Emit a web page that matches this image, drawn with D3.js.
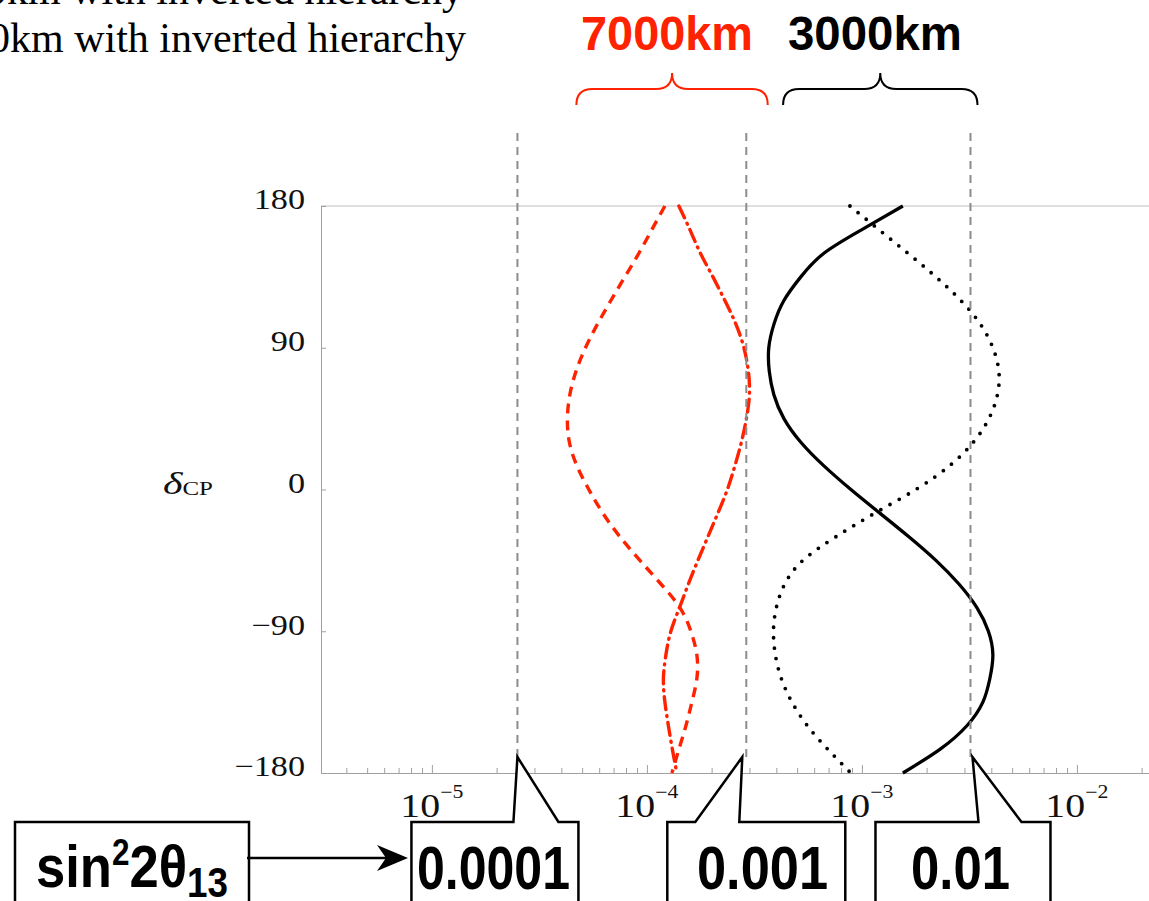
<!DOCTYPE html>
<html lang="en">
<head>
<meta charset="UTF-8">
<title>delta CP vs sin2 2theta13</title>
<script src="https://cdn.jsdelivr.net/npm/d3@7"></script>
<style>
  body { margin: 0; background: #fff; }
  svg { display: block; }
</style>
</head>
<body>
<svg id="viz"></svg>
<script>
// Data ---
// delta_CP grid (degrees), shared by the four curves
const deltaCP = [180, 165, 150, 135, 120, 105, 90, 75, 60, 45, 30, 15, 0,
  -15, -30, -45, -60, -75, -90, -105, -120, -135, -150, -165, -180];

// sin^2 2theta13, one value per delta
const red7000Dashed = [1.213e-4, 1.055e-4, 9.18e-5, 7.90e-5, 6.80e-5, 5.89e-5, 5.18e-5, 4.68e-5, 4.38e-5,
  4.27e-5, 4.36e-5, 4.73e-5, 5.37e-5, 6.24e-5, 7.49e-5, 9.28e-5, 1.162e-4, 1.424e-4, 1.602e-4,
  1.708e-4, 1.708e-4, 1.620e-4, 1.519e-4, 1.409e-4, 1.307e-4];
const red7000DashDot = [1.409e-4, 1.585e-4, 1.774e-4, 2.028e-4, 2.306e-4, 2.594e-4, 2.827e-4, 2.966e-4, 2.998e-4,
  2.903e-4, 2.751e-4, 2.566e-4, 2.368e-4, 2.139e-4, 1.922e-4, 1.727e-4, 1.560e-4, 1.418e-4, 1.293e-4,
  1.226e-4, 1.194e-4, 1.213e-4, 1.259e-4, 1.314e-4, 1.379e-4];
const black3000Solid = [1.551e-3, 1.0e-3, 6.66e-4, 5.20e-4, 4.34e-4, 3.90e-4, 3.69e-4, 3.71e-4, 3.90e-4,
  4.34e-4, 5.20e-4, 6.66e-4, 8.89e-4, 1.212e-3, 1.654e-3, 2.209e-3, 2.827e-3, 3.427e-3, 3.876e-3,
  4.067e-3, 3.938e-3, 3.654e-3, 3.079e-3, 2.306e-3, 1.551e-3];
const black3000Dotted = [8.80e-4, 1.20e-3, 1.637e-3, 2.209e-3, 2.887e-3, 3.558e-3, 4.067e-3, 4.337e-3, 4.268e-3,
  3.896e-3, 3.301e-3, 2.553e-3, 1.783e-3, 1.149e-3, 7.57e-4, 5.32e-4, 4.38e-4, 4.00e-4, 3.88e-4,
  3.96e-4, 4.22e-4, 4.73e-4, 5.58e-4, 6.95e-4, 8.89e-4];

const yTicks = [180, 90, 0, -90, -180];
const xDecades = [1e-5, 1e-4, 1e-3, 1e-2];
const xExponents = ["\u22125", "\u22124", "\u22123", "\u22122"];

// annotations
const headerLines = ["3000km with inverted hierarchy", "7000km with inverted hierarchy"];
const braceLabels = ["7000km", "3000km"];
const braceRanges = [[4.7e-5, 3.65e-4], [4.3e-4, 3.45e-3]];
const markerValues = [2.5e-5, 2.9e-4, 3.2e-3];
const markerLabels = ["0.0001", "0.001", "0.01"];

// Layout ---
const svgWidth = 1149, svgHeight = 901;
const plot = { left: 321, top: 206, bottom: 773, decade: 215 };
const xMin = 3.05e-6, xMax = 3e-2;
const red = '#ff2200';
const serif = '"Liberation Serif", "Times New Roman", serif';
const sans = '"Liberation Sans", Arial, sans-serif';

const svg = d3.select('#viz')
  .attr('width', svgWidth)
  .attr('height', svgHeight)
  .attr('viewBox', `0 0 ${svgWidth} ${svgHeight}`);

// Scales ---
const x = d3.scaleLog()
  .domain([xMin, xMax])
  .range([plot.left, plot.left + plot.decade * Math.log10(xMax / xMin)]);
const y = d3.scaleLinear()
  .domain([-180, 180])
  .range([plot.bottom, plot.top]);

// Frame: top line, axes ---
svg.append('line')
  .attr('x1', x.range()[0]).attr('x2', x.range()[1])
  .attr('y1', y(180)).attr('y2', y(180))
  .attr('stroke', '#bdbdbd').attr('stroke-width', 1);

let minorTicks = [];
for (let e = -6; e <= -2; e++) {
  for (let m = 1; m <= 9; m++) {
    const v = m * Math.pow(10, e);
    if (v >= xMin && v <= xMax) minorTicks.push(v);
  }
}

const xAxis = svg.append('g')
  .attr('transform', `translate(0,${plot.bottom})`)
  .call(d3.axisBottom(x).tickValues(minorTicks).tickSize(-5).tickSizeOuter(0).tickFormat(''));
xAxis.selectAll('.tick line')
  .attr('y2', d => xDecades.some(v => Math.abs(v - d) / v < 1e-6) ? -8 : -5);

const yAxis = svg.append('g')
  .attr('transform', `translate(${plot.left},0)`)
  .call(d3.axisLeft(y).tickValues(yTicks).tickSize(-5).tickSizeOuter(0).tickPadding(16)
    .tickFormat(d => d3.format('d')(d).replace('-', '\u2212')));

[xAxis, yAxis].forEach(g => {
  g.select('.domain').attr('stroke', '#a0a0a0');
  g.selectAll('.tick line').attr('stroke', '#a0a0a0');
});
yAxis.selectAll('text')
  .attr('font-family', serif)
  .attr('font-size', 29)
  .attr('fill', '#111')
  .attr('dy', '0.1em')
  .each(function () {
    const len = this.getComputedTextLength();
    d3.select(this).attr('textLength', len * 1.18).attr('lengthAdjust', 'spacingAndGlyphs');
  });

// x decade labels 10^-n
const xLabels = svg.append('g')
  .selectAll('text')
  .data(xDecades)
  .join('text')
  .attr('x', d => x(d))
  .attr('y', 817)
  .attr('text-anchor', 'middle')
  .attr('font-family', serif)
  .attr('font-size', 33)
  .attr('fill', '#111')
  .attr('textLength', 63)
  .attr('lengthAdjust', 'spacingAndGlyphs');
xLabels.append('tspan').text('10');
xLabels.append('tspan')
  .attr('font-size', 18)
  .attr('dy', -19)
  .text((d, i) => xExponents[i]);

// y title delta_CP
const yTitle = svg.append('text')
  .attr('x', 163).attr('y', 494)
  .attr('font-family', serif)
  .attr('fill', '#111')
  .attr('textLength', 50)
  .attr('lengthAdjust', 'spacingAndGlyphs');
yTitle.append('tspan').attr('font-size', 32).attr('font-style', 'italic').text('\u03b4');
yTitle.append('tspan').attr('font-size', 19).attr('dy', 1).text('CP');

// Curves ---
const curves = [
  { values: red7000Dashed, color: red, width: 3.4, dash: '10,7', cap: 'butt' },
  { values: red7000DashDot, color: red, width: 3.4, dash: '13,6,1,6', cap: 'round' },
  { values: black3000Solid, color: '#000', width: 3.3, dash: null, cap: 'butt' },
  { values: black3000Dotted, color: '#000', width: 3.8, dash: '0,10.5', cap: 'round' }
];

const line = d3.line()
  .x(d => x(d[0]))
  .y(d => y(d[1]))
  .curve(d3.curveNatural);

svg.append('g')
  .selectAll('path')
  .data(curves)
  .join('path')
  .attr('d', c => line(c.values.map((v, i) => [v, deltaCP[i]])))
  .attr('fill', 'none')
  .attr('stroke', c => c.color)
  .attr('stroke-width', c => c.width)
  .attr('stroke-dasharray', c => c.dash)
  .attr('stroke-linecap', c => c.cap);

// Header text, partly off the top-left ---
svg.append('g')
  .selectAll('text')
  .data(headerLines)
  .join('text')
  .attr('x', (d, i) => i ? 466 : 463)
  .attr('y', (d, i) => i ? 52 : 4)
  .attr('text-anchor', 'end')
  .attr('font-family', serif)
  .attr('font-size', 42)
  .attr('fill', '#000')
  .text(d => d);

// Braces over the two baselines ---
const braceY = { tip: 73, mid: 89, end: 105 };
function bracePath(x0, x1) {
  const xm = (x0 + x1) / 2, r = 16;
  return `M${x0},${braceY.end} Q${x0},${braceY.mid} ${x0 + r},${braceY.mid} L${xm - r},${braceY.mid}` +
    ` Q${xm},${braceY.mid} ${xm},${braceY.tip} Q${xm},${braceY.mid} ${xm + r},${braceY.mid}` +
    ` L${x1 - r},${braceY.mid} Q${x1},${braceY.mid} ${x1},${braceY.end}`;
}
const braces = svg.append('g')
  .selectAll('g')
  .data(braceRanges)
  .join('g');
braces.append('path')
  .attr('d', d => bracePath(x(d[0]), x(d[1])))
  .attr('fill', 'none')
  .attr('stroke', (d, i) => i ? '#000' : red)
  .attr('stroke-width', 2);
braces.append('text')
  .attr('x', (d, i) => i ? 788 : 581)
  .attr('y', 50)
  .attr('font-family', sans)
  .attr('font-weight', 'bold')
  .attr('font-size', 48)
  .attr('fill', (d, i) => i ? '#000' : red)
  .attr('textLength', (d, i) => i ? 174 : 172)
  .attr('lengthAdjust', 'spacingAndGlyphs')
  .text((d, i) => braceLabels[i]);

// Dashed markers and callout boxes ---
const callout = [
  { left: -106, right: 61, baseL: -4, baseR: 41, tip: 0, textX: 417, textLen: 153 },
  { left: -79, right: 99, baseL: -51, baseR: -7, tip: -4, textX: 697, textLen: 131 },
  { left: -95, right: 80, baseL: 8, baseR: 51, tip: 2, textX: 911, textLen: 99 }
];
const boxTop = 822, boxBottom = 910, tipY = 757;

svg.append('g')
  .selectAll('line')
  .data(markerValues)
  .join('line')
  .attr('x1', d => x(d)).attr('x2', d => x(d))
  .attr('y1', 133).attr('y2', tipY)
  .attr('stroke', '#8c8c8c')
  .attr('stroke-width', 2)
  .attr('stroke-dasharray', '8,6');

const boxes = svg.append('g')
  .selectAll('g')
  .data(markerValues)
  .join('g');
boxes.append('path')
  .attr('d', (d, i) => {
    const m = x(d), c = callout[i];
    return `M${m + c.left},${boxBottom} L${m + c.left},${boxTop} L${m + c.baseL},${boxTop}` +
      ` L${m + c.tip},${tipY} L${m + c.baseR},${boxTop} L${m + c.right},${boxTop} L${m + c.right},${boxBottom}`;
  })
  .attr('fill', '#fff')
  .attr('stroke', '#000')
  .attr('stroke-width', 2.5)
  .attr('stroke-linejoin', 'miter');
boxes.append('text')
  .attr('x', (d, i) => callout[i].textX)
  .attr('y', 889)
  .attr('font-family', sans)
  .attr('font-weight', 'bold')
  .attr('font-size', 62)
  .attr('textLength', (d, i) => callout[i].textLen)
  .attr('lengthAdjust', 'spacingAndGlyphs')
  .text((d, i) => markerLabels[i]);

// sin^2 2theta13 box with arrow ---
svg.append('path')
  .attr('d', `M15,${boxBottom} L15,${boxTop} L249,${boxTop} L249,${boxBottom}`)
  .attr('fill', '#fff')
  .attr('stroke', '#000')
  .attr('stroke-width', 2.5);
const sinText = svg.append('text')
  .attr('x', 36).attr('y', 887)
  .attr('font-family', sans)
  .attr('font-weight', 'bold')
  .attr('font-size', 60)
  .attr('textLength', 192)
  .attr('lengthAdjust', 'spacingAndGlyphs');
sinText.append('tspan').text('sin');
sinText.append('tspan').attr('font-size', 36).attr('dy', -22).text('2');
sinText.append('tspan').attr('dy', 22).text('2\u03b8');
sinText.append('tspan').attr('font-size', 42).attr('dy', 10).text('13');

svg.append('line')
  .attr('x1', 247).attr('x2', 392)
  .attr('y1', 858).attr('y2', 858)
  .attr('stroke', '#000').attr('stroke-width', 2.5);
svg.append('path')
  .attr('d', 'M408,858 L377,845 L386,858 L377,871 Z')
  .attr('fill', '#000');
</script>
</body>
</html>
